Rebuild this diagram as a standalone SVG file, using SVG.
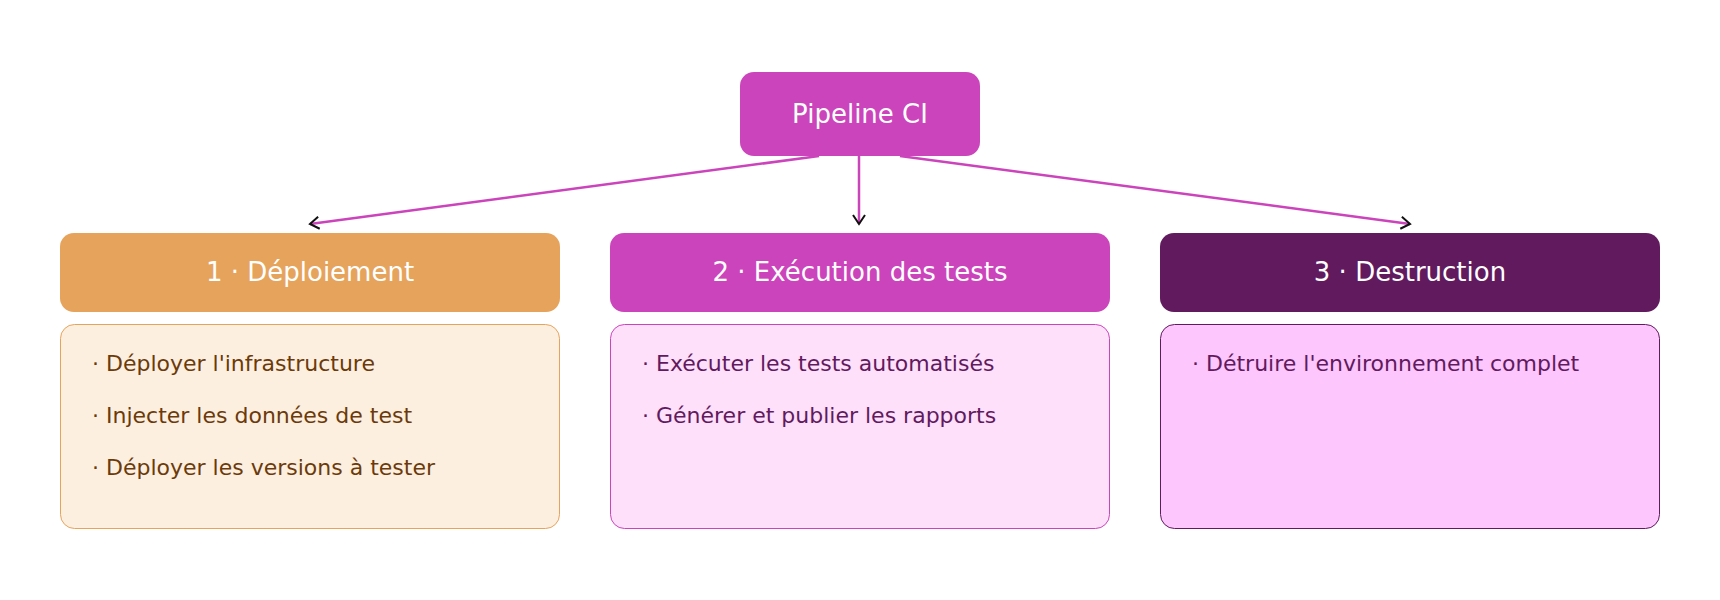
<svg xmlns="http://www.w3.org/2000/svg" width="1720" height="600" viewBox="0 0 1720 600">
<defs>
<marker id="ah" markerWidth="14" markerHeight="14" refX="11" refY="7" orient="auto" markerUnits="userSpaceOnUse"><path d="M2,1 L11,7 L2,13" fill="none" stroke="#111" stroke-width="2"/></marker>
<style>
text{font-family:"DejaVu Sans",sans-serif}
.hd{font-size:26px;fill:#fff;text-anchor:middle}
.it{font-size:22px}
.c{stroke:#CC44BB;stroke-width:2.5;fill:none;marker-end:url(#ah)}
</style>
</defs>
<rect width="1720" height="600" fill="#fff"/>
<g id="connectors">
<path class="c" d="M819,156 L310,224"/>
<path class="c" d="M859,156 L859,224"/>
<path class="c" d="M900,156 L1410,224"/>
</g>
<g id="pipeline"><rect x="740" y="72" width="240" height="84" rx="14" fill="#CC44BB"/><text class="hd" x="860" y="123">Pipeline CI</text></g>
<g id="deploiement">
<rect x="60" y="233" width="500" height="79" rx="14" fill="#E6A35C"/><text class="hd" x="310" y="281">1 · Déploiement</text>
<rect x="60.5" y="324.5" width="499" height="204" rx="14" fill="#FDEFE0" stroke="#E6A35C"/>
<g class="it" fill="#6B3A0A"><text x="92" y="371">· Déployer l'infrastructure</text><text x="92" y="423">· Injecter les données de test</text><text x="92" y="475">· Déployer les versions à tester</text></g>
</g>
<g id="tests">
<rect x="610" y="233" width="500" height="79" rx="14" fill="#CC44BB"/><text class="hd" x="860" y="281">2 · Exécution des tests</text>
<rect x="610.5" y="324.5" width="499" height="204" rx="14" fill="#FFE0FB" stroke="#CC44BB"/>
<g class="it" fill="#611A5E"><text x="642" y="371">· Exécuter les tests automatisés</text><text x="642" y="423">· Générer et publier les rapports</text></g>
</g>
<g id="destruction">
<rect x="1160" y="233" width="500" height="79" rx="14" fill="#611A5E"/><text class="hd" x="1410" y="281">3 · Destruction</text>
<rect x="1160.5" y="324.5" width="499" height="204" rx="14" fill="#FDC6FD" stroke="#611A5E"/>
<g class="it" fill="#611A5E"><text x="1192" y="371">· Détruire l'environnement complet</text></g>
</g>
</svg>
